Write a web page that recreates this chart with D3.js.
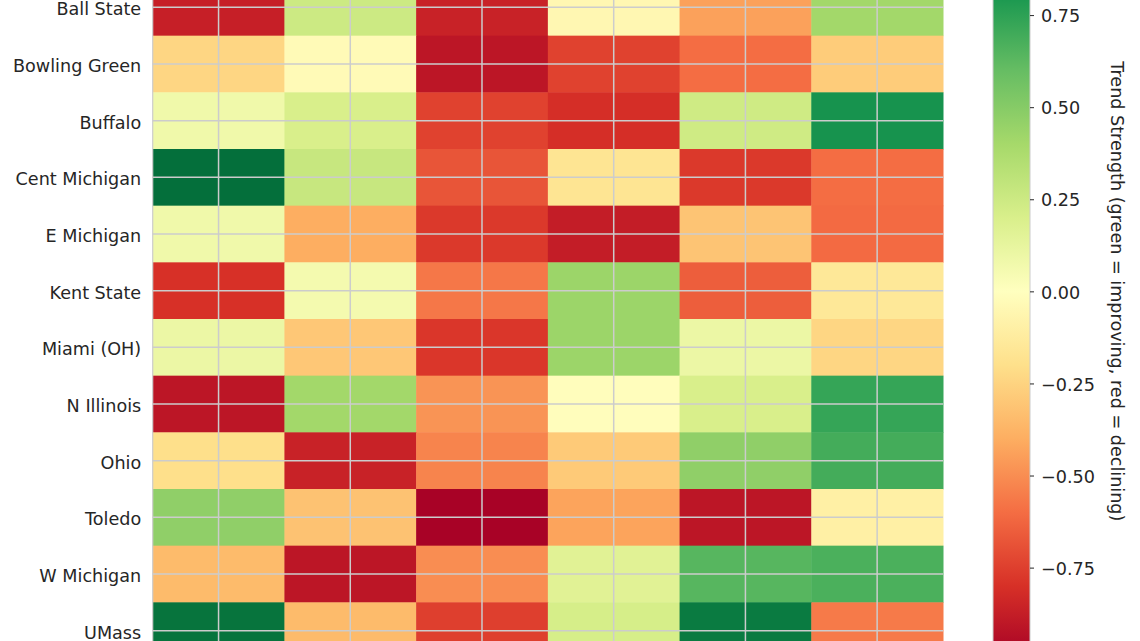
<!DOCTYPE html>
<html>
<head>
<meta charset="utf-8">
<script src="https://cdn.jsdelivr.net/npm/d3@7"></script>
<style>
  html, body { margin: 0; padding: 0; background: #ffffff; }
  svg { display: block; font-family: 'DejaVu Sans', sans-serif; }
</style>
</head>
<body>
<svg id="chart" width="1140" height="641"></svg>
<script>
// ---- data ----
const teams = ["Ball State", "Bowling Green", "Buffalo", "Cent Michigan", "E Michigan",
  "Kent State", "Miami (OH)", "N Illinois", "Ohio", "Toledo", "W Michigan", "UMass"];
const metrics = ["M1", "M2", "M3", "M4", "M5", "M6"];
const ballState    = [-0.87,  0.25, -0.86, -0.05, -0.44,  0.41];
const bowlingGreen = [-0.24, -0.03, -0.91, -0.74, -0.60, -0.28];
const buffalo      = [ 0.08,  0.20, -0.74, -0.81,  0.24,  0.82];
const centMichigan = [ 0.97,  0.27, -0.68, -0.17, -0.77, -0.60];
const eMichigan    = [ 0.08, -0.40, -0.77, -0.88, -0.31, -0.61];
const kentState    = [-0.80,  0.06, -0.57,  0.43, -0.65, -0.15];
const miamiOH      = [ 0.10, -0.30, -0.78,  0.43,  0.10, -0.24];
const nIllinois    = [-0.91,  0.41, -0.48, -0.01,  0.20,  0.73];
const ohio         = [-0.20, -0.86, -0.53, -0.29,  0.47,  0.69];
const toledo       = [ 0.47, -0.32, -0.99, -0.43, -0.91, -0.10];
const wMichigan    = [-0.35, -0.91, -0.50,  0.16,  0.64,  0.67];
const uMass        = [ 0.95, -0.35, -0.75,  0.21,  0.92, -0.56];
const colorbarTicks = [-0.75, -0.5, -0.25, 0, 0.25, 0.5, 0.75];
const colorbarLabel = "Trend Strength (green = improving, red = declining)";
const rdYlGn = ["#a50026","#d73027","#f46d43","#fdae61","#fee08b","#ffffbf",
                "#d9ef8b","#a6d96a","#66bd63","#1a9850","#006837"];

const rows = [ballState, bowlingGreen, buffalo, centMichigan, eMichigan, kentState,
  miamiOH, nIllinois, ohio, toledo, wMichigan, uMass];

// ---- layout ----
const svg = d3.select("#chart");
const heatLeft = 152.7, heatRight = 943, heatTop = -21, heatBottom = 659;
const cbLeft = 993, cbRight = 1030, cbTop = -77, cbBottom = 659.7;
const textColor = "#262626";
const gridColor = "#cccccc";
const fontSize = 17.6;

const x = d3.scaleBand().domain(metrics).range([heatLeft, heatRight]).padding(0);
const y = d3.scaleBand().domain(teams).range([heatTop, heatBottom]).padding(0);
const color = d3.scaleLinear()
  .domain(d3.range(11).map(i => -1 + i * 0.2))
  .range(rdYlGn)
  .interpolate(d3.interpolateRgb)
  .clamp(true);

const cells = [];
teams.forEach((t, i) => metrics.forEach((m, j) => cells.push({team: t, metric: m, v: rows[i][j]})));

svg.append("g").selectAll("rect").data(cells).join("rect")
  .attr("x", d => x(d.metric))
  .attr("y", d => y(d.team))
  .attr("width", x.bandwidth() + 0.5)
  .attr("height", y.bandwidth() + 0.5)
  .attr("fill", d => color(d.v));

// grid lines at centres
const grid = svg.append("g").attr("stroke", gridColor).attr("stroke-width", 1.5);
grid.selectAll("line.v").data(metrics).join("line").attr("class", "v")
  .attr("x1", d => x(d) + x.bandwidth() / 2).attr("x2", d => x(d) + x.bandwidth() / 2)
  .attr("y1", heatTop).attr("y2", heatBottom);
grid.selectAll("line.h").data(teams).join("line").attr("class", "h")
  .attr("y1", d => y(d) + y.bandwidth() / 2).attr("y2", d => y(d) + y.bandwidth() / 2)
  .attr("x1", heatLeft).attr("x2", heatRight);

// left spine
svg.append("line").attr("x1", heatLeft).attr("x2", heatLeft)
  .attr("y1", heatTop).attr("y2", heatBottom)
  .attr("stroke", gridColor).attr("stroke-width", 1.2);

// y axis labels
const yAxis = d3.axisLeft(y).tickSize(0).tickPadding(11.5);
const yg = svg.append("g").attr("transform", `translate(${heatLeft},0)`).call(yAxis);
yg.select(".domain").remove();
yg.selectAll("text").attr("fill", textColor).attr("font-size", fontSize)
  .attr("font-family", "'DejaVu Sans', sans-serif").attr("dy", "0.46em");

// colorbar
const cy = d3.scaleLinear().domain([-1, 1]).range([cbBottom, cbTop]);
const defs = svg.append("defs");
const grad = defs.append("linearGradient").attr("id", "cbgrad")
  .attr("x1", 0).attr("x2", 0).attr("y1", 1).attr("y2", 0);
grad.selectAll("stop").data(d3.range(11)).join("stop")
  .attr("offset", i => i / 10)
  .attr("stop-color", i => color(-1 + i * 0.2));
svg.append("rect").attr("x", cbLeft).attr("y", cy(1))
  .attr("width", cbRight - cbLeft).attr("height", cy(-1) - cy(1))
  .attr("fill", "url(#cbgrad)").attr("stroke", gridColor).attr("stroke-width", 1);

const cAxis = d3.axisRight(cy).tickValues(colorbarTicks).tickSize(4).tickPadding(7)
  .tickFormat(d => d3.format(".2f")(d).replace("-", "\u2212"));
const cg = svg.append("g").attr("transform", `translate(${cbRight},0)`).call(cAxis);
cg.select(".domain").remove();
cg.selectAll("line").attr("stroke", textColor).attr("stroke-width", 1);
cg.selectAll("text").attr("fill", textColor).attr("font-size", fontSize)
  .attr("font-family", "'DejaVu Sans', sans-serif").attr("dy", "0.38em");

svg.append("text")
  .attr("transform", `translate(1111, ${(cy(1) + cy(-1)) / 2}) rotate(90)`)
  .attr("text-anchor", "middle")
  .attr("fill", textColor).attr("font-size", fontSize)
  .text(colorbarLabel);
</script>
</body>
</html>
